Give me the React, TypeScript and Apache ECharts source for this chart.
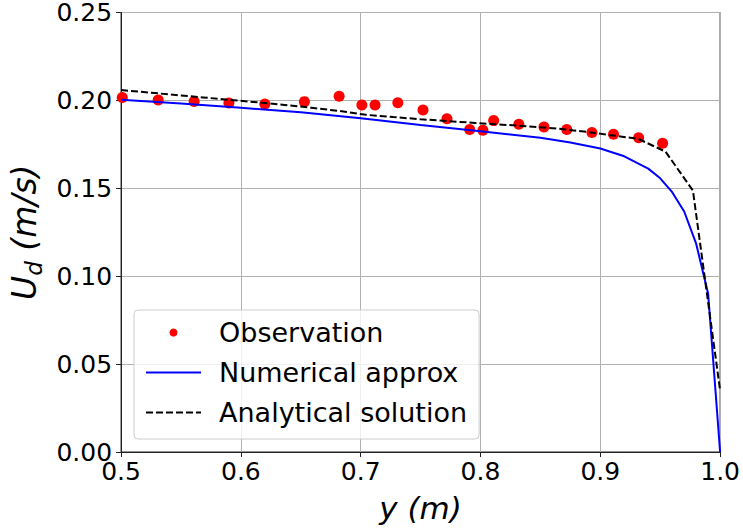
import React, { useEffect, useRef } from "react";
import * as echarts from "echarts";

const obsX = [0.501, 0.531, 0.561, 0.590, 0.620, 0.653, 0.682, 0.701, 0.712, 0.731, 0.752, 0.772, 0.791, 0.802, 0.811, 0.832, 0.853, 0.872, 0.893, 0.911, 0.932, 0.952];
const obsY = [0.2017, 0.2002, 0.1994, 0.1985, 0.1980, 0.1993, 0.2023, 0.1974, 0.1974, 0.1987, 0.1946, 0.1896, 0.1834, 0.1830, 0.1885, 0.1864, 0.1849, 0.1834, 0.1817, 0.1807, 0.1787, 0.1756];

const numX = [0.50, 0.55, 0.60, 0.65, 0.70, 0.75, 0.80, 0.85, 0.875, 0.90, 0.92, 0.94, 0.95, 0.96, 0.97, 0.98, 0.99, 1.00];
const numY = [0.2003, 0.1982, 0.1958, 0.1932, 0.1898, 0.1860, 0.1824, 0.1788, 0.1760, 0.1726, 0.1682, 0.1612, 0.1557, 0.1478, 0.1368, 0.1185, 0.0900, 0.0];

const anaX = [0.5, 0.5227, 0.5455, 0.5682, 0.5909, 0.6136, 0.6364, 0.6591, 0.6818, 0.7045, 0.7273, 0.75, 0.7727, 0.7955, 0.8182, 0.8409, 0.8636, 0.8864, 0.9091, 0.9318, 0.9545, 0.9773, 1.0];
const anaY = [0.2059, 0.2045, 0.2031, 0.2017, 0.2003, 0.1989, 0.1974, 0.1958, 0.1940, 0.1918, 0.1905, 0.1893, 0.1882, 0.1872, 0.1862, 0.1852, 0.1840, 0.1823, 0.1802, 0.1781, 0.1708, 0.1487, 0.0350];

const seriesNames = ["Observation", "Numerical approx", "Analytical solution"];
const xLabel = "y (m)";

const FONT = "DejaVu Sans";

const zip = (xs: number[], ys: number[]) => xs.map((x, i) => [x, ys[i]]);

export default function App() {
  const ref = useRef<HTMLDivElement>(null);
  useEffect(() => {
    if (!ref.current) return;
    const chart = echarts.init(ref.current, null, { renderer: "svg" });
    chart.setOption({
      animation: false,
      backgroundColor: "#ffffff",
      grid: {
        left: 121,
        right: 21,
        top: 12,
        bottom: 77,
        show: true,
        borderColor: "#222",
        borderWidth: 1,
        backgroundColor: "transparent",
      },
      legend: {
        data: [
          { name: seriesNames[0], icon: "circle", itemStyle: { color: "#ff0000", opacity: 1 } },
          { name: seriesNames[1], itemStyle: { color: "rgba(0,0,0,0)", borderWidth: 0 } },
          { name: seriesNames[2], itemStyle: { color: "rgba(0,0,0,0)", borderWidth: 0 } },
        ],
        orient: "vertical",
        left: 134,
        top: 310,
        itemWidth: 55,
        itemHeight: 8,
        itemGap: 13,
        padding: [9, 12, 13, 11],
        backgroundColor: "rgba(255,255,255,0.8)",
        borderColor: "#cccccc",
        borderWidth: 1,
        borderRadius: 4,
        formatter: (name: string) => `{t|${name}}`,
        textStyle: {
          rich: {
            t: {
              fontFamily: FONT,
              fontSize: 27,
              color: "#000",
              lineHeight: 30,
              padding: [0, 0, 0, 13],
            },
          },
        },
      },
      xAxis: {
        type: "value",
        min: 0.5,
        max: 1.0,
        interval: 0.1,
        name: xLabel,
        nameLocation: "middle",
        nameGap: 40,
        nameTextStyle: {
          fontFamily: FONT,
          fontSize: 31,
          fontStyle: "italic",
          color: "#000",
        },
        axisLine: { show: true, onZero: false, lineStyle: { color: "#222", width: 1 } },
        axisTick: { show: true, inside: false, length: 5, lineStyle: { color: "#222" } },
        axisLabel: {
          fontFamily: FONT,
          fontSize: 25,
          color: "#000",
          margin: 7,
          formatter: (v: number) => v.toFixed(1),
        },
        splitLine: { show: true, lineStyle: { color: "#b0b0b0", width: 1 } },
      },
      yAxis: {
        type: "value",
        min: 0,
        max: 0.25,
        interval: 0.05,
        name: "{i|U}{s|d}{i| (m/s)}",
        nameLocation: "middle",
        nameRotate: 90,
        nameGap: 71,
        nameTextStyle: {
          color: "#000",
          rich: {
            i: {
              fontFamily: FONT,
              fontSize: 33,
              fontStyle: "italic",
              color: "#000",
              lineHeight: 42,
              verticalAlign: "middle",
            },
            s: {
              fontFamily: FONT,
              fontSize: 23,
              fontStyle: "italic",
              color: "#000",
              lineHeight: 42,
              verticalAlign: "bottom",
            },
          },
        },
        axisLine: { show: true, lineStyle: { color: "#222", width: 1 } },
        axisTick: { show: true, inside: false, length: 5, lineStyle: { color: "#222" } },
        axisLabel: {
          fontFamily: FONT,
          fontSize: 25,
          lineHeight: 22,
          color: "#000",
          margin: 9,
          formatter: (v: number) => v.toFixed(2),
        },
        splitLine: { show: true, lineStyle: { color: "#b0b0b0", width: 1 } },
      },
      series: [
        {
          name: seriesNames[0],
          type: "scatter",
          data: zip(obsX, obsY),
          symbol: "circle",
          symbolSize: 11,
          itemStyle: { color: "#ff0000", opacity: 1 },
        },
        {
          name: seriesNames[1],
          type: "line",
          data: zip(numX, numY),
          showSymbol: false,
          symbol: "none",
          lineStyle: { color: "#0000ff", width: 2 },
          itemStyle: { color: "#0000ff" },
        },
        {
          name: seriesNames[2],
          type: "line",
          data: zip(anaX, anaY),
          showSymbol: false,
          symbol: "none",
          lineStyle: { color: "#000000", width: 2, type: [7, 3] },
          itemStyle: { color: "#000000" },
        },
      ],
    });
    return () => chart.dispose();
  }, []);
  return <div ref={ref} style={{ width: 743, height: 529, position: "absolute", left: 0, top: 0 }} />;
}
